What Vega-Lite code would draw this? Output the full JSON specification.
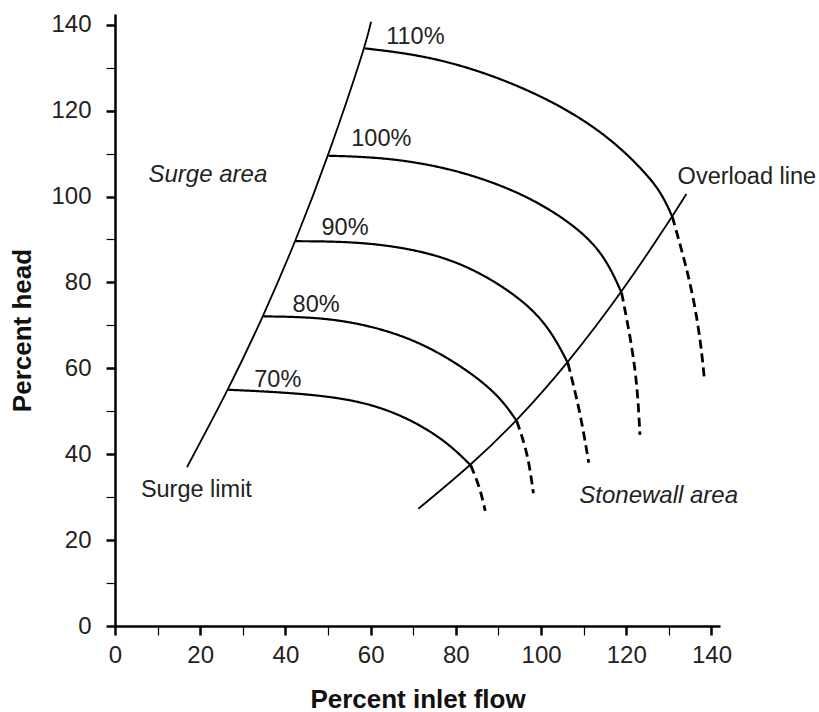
{
  "$schema": "https://vega.github.io/schema/vega-lite/v6.json",
  "width": 605,
  "height": 612,
  "autosize": {"type": "none"},
  "padding": {"left": 115, "top": 14, "right": 99, "bottom": 86},
  "background": "white",
  "config": {"view": {"stroke": null}, "font": "Liberation Sans"},
  "datasets": {
    "curves": [
      {"id": "110s", "part": "solid", "i": 1, "x": 58.6, "y": 134.5},
      {"id": "110s", "part": "solid", "i": 2, "x": 73.2, "y": 132.8},
      {"id": "110s", "part": "solid", "i": 3, "x": 88.9, "y": 128.3},
      {"id": "110s", "part": "solid", "i": 4, "x": 104.5, "y": 121.4},
      {"id": "110s", "part": "solid", "i": 5, "x": 116.3, "y": 113.6},
      {"id": "110s", "part": "solid", "i": 6, "x": 124.3, "y": 105.8},
      {"id": "110s", "part": "solid", "i": 7, "x": 128.3, "y": 100.8},
      {"id": "110s", "part": "solid", "i": 8, "x": 130.8, "y": 95.3},
      {"id": "110d", "part": "dashed", "i": 1, "x": 130.8, "y": 95.3},
      {"id": "110d", "part": "dashed", "i": 2, "x": 133.6, "y": 85.5},
      {"id": "110d", "part": "dashed", "i": 3, "x": 136.0, "y": 75.5},
      {"id": "110d", "part": "dashed", "i": 4, "x": 137.6, "y": 65.0},
      {"id": "110d", "part": "dashed", "i": 5, "x": 138.3, "y": 57.8},
      {"id": "100s", "part": "solid", "i": 1, "x": 50.1, "y": 109.5},
      {"id": "100s", "part": "solid", "i": 2, "x": 63.8, "y": 109.1},
      {"id": "100s", "part": "solid", "i": 3, "x": 79.5, "y": 106.5},
      {"id": "100s", "part": "solid", "i": 4, "x": 95.1, "y": 101.1},
      {"id": "100s", "part": "solid", "i": 5, "x": 106.9, "y": 94.1},
      {"id": "100s", "part": "solid", "i": 6, "x": 114.6, "y": 87.0},
      {"id": "100s", "part": "solid", "i": 7, "x": 118.9, "y": 77.6},
      {"id": "100d", "part": "dashed", "i": 1, "x": 118.9, "y": 77.6},
      {"id": "100d", "part": "dashed", "i": 2, "x": 121.4, "y": 65.0},
      {"id": "100d", "part": "dashed", "i": 3, "x": 122.7, "y": 54.5},
      {"id": "100d", "part": "dashed", "i": 4, "x": 123.2, "y": 44.5},
      {"id": "90s", "part": "solid", "i": 1, "x": 42.4, "y": 89.6},
      {"id": "90s", "part": "solid", "i": 2, "x": 58.3, "y": 89.5},
      {"id": "90s", "part": "solid", "i": 3, "x": 74.0, "y": 87.1},
      {"id": "90s", "part": "solid", "i": 4, "x": 85.7, "y": 82.5},
      {"id": "90s", "part": "solid", "i": 5, "x": 96.6, "y": 75.3},
      {"id": "90s", "part": "solid", "i": 6, "x": 102.4, "y": 68.7},
      {"id": "90s", "part": "solid", "i": 7, "x": 106.3, "y": 61.2},
      {"id": "90d", "part": "dashed", "i": 1, "x": 106.3, "y": 61.2},
      {"id": "90d", "part": "dashed", "i": 2, "x": 109.1, "y": 50.3},
      {"id": "90d", "part": "dashed", "i": 3, "x": 111.2, "y": 38.0},
      {"id": "80s", "part": "solid", "i": 1, "x": 34.8, "y": 72.1},
      {"id": "80s", "part": "solid", "i": 2, "x": 48.2, "y": 71.9},
      {"id": "80s", "part": "solid", "i": 3, "x": 59.9, "y": 70.0},
      {"id": "80s", "part": "solid", "i": 4, "x": 71.6, "y": 66.2},
      {"id": "80s", "part": "solid", "i": 5, "x": 82.5, "y": 59.8},
      {"id": "80s", "part": "solid", "i": 6, "x": 90.2, "y": 53.6},
      {"id": "80s", "part": "solid", "i": 7, "x": 94.3, "y": 47.7},
      {"id": "80d", "part": "dashed", "i": 1, "x": 94.3, "y": 47.7},
      {"id": "80d", "part": "dashed", "i": 2, "x": 96.9, "y": 40.2},
      {"id": "80d", "part": "dashed", "i": 3, "x": 98.2, "y": 30.9},
      {"id": "70s", "part": "solid", "i": 1, "x": 26.6, "y": 55.0},
      {"id": "70s", "part": "solid", "i": 2, "x": 40.3, "y": 54.4},
      {"id": "70s", "part": "solid", "i": 3, "x": 56.0, "y": 52.9},
      {"id": "70s", "part": "solid", "i": 4, "x": 67.7, "y": 49.1},
      {"id": "70s", "part": "solid", "i": 5, "x": 77.6, "y": 43.2},
      {"id": "70s", "part": "solid", "i": 6, "x": 83.5, "y": 37.4},
      {"id": "70d", "part": "dashed", "i": 1, "x": 83.5, "y": 37.4},
      {"id": "70d", "part": "dashed", "i": 2, "x": 85.6, "y": 32.4},
      {"id": "70d", "part": "dashed", "i": 3, "x": 86.9, "y": 26.8}
    ],
    "bounds": [
      {"id": "surge", "i": 1, "x": 16.9, "y": 37.0},
      {"id": "surge", "i": 2, "x": 26.6, "y": 55.0},
      {"id": "surge", "i": 3, "x": 34.8, "y": 72.1},
      {"id": "surge", "i": 4, "x": 42.4, "y": 89.6},
      {"id": "surge", "i": 5, "x": 50.1, "y": 109.5},
      {"id": "surge", "i": 6, "x": 58.6, "y": 134.5},
      {"id": "surge", "i": 7, "x": 60.1, "y": 140.7},
      {"id": "overload", "i": 1, "x": 71.2, "y": 27.3},
      {"id": "overload", "i": 2, "x": 83.5, "y": 37.4},
      {"id": "overload", "i": 3, "x": 94.3, "y": 47.7},
      {"id": "overload", "i": 4, "x": 106.3, "y": 61.2},
      {"id": "overload", "i": 5, "x": 118.9, "y": 77.6},
      {"id": "overload", "i": 6, "x": 130.8, "y": 95.3},
      {"id": "overload", "i": 7, "x": 134.1, "y": 100.6}
    ],
    "labels": [
      {"text": "110%", "x": 70.5, "y": 135.6},
      {"text": "100%", "x": 62.5, "y": 111.7},
      {"text": "90%", "x": 54.0, "y": 91.1},
      {"text": "80%", "x": 47.2, "y": 73.2},
      {"text": "70%", "x": 38.2, "y": 55.7},
      {"text": "Surge limit", "x": 19.1, "y": 30.1},
      {"text": "Overload line", "x": 148.3, "y": 102.9}
    ],
    "areas": [
      {"text": "Surge area", "x": 21.8, "y": 103.3},
      {"text": "Stonewall area", "x": 127.6, "y": 28.6}
    ]
  },
  "layer": [
    {
      "data": {"name": "curves"},
      "mark": {"type": "line", "color": "black", "interpolate": "basis"},
      "encoding": {
        "x": {
          "field": "x", "type": "quantitative",
          "scale": {"domain": [0, 142], "nice": false, "zero": false},
          "axis": {
            "title": "Percent inlet flow",
            "values": [0, 10, 20, 30, 40, 50, 60, 70, 80, 90, 100, 110, 120, 130, 140],
            "labelExpr": "datum.value % 20 === 0 ? datum.label : ''",
            "grid": false,
            "domainColor": "black", "domainWidth": 2.5,
            "tickColor": "black", "tickSize": 9,
            "tickWidth": {"condition": {"test": "datum.value % 20 === 0", "value": 2.5}, "value": 1.2},
            "labelFont": "Liberation Sans", "labelFontSize": 24, "labelColor": "#222",
            "labelPadding": 8, "labelFlush": false, "labelOverlap": false,
            "titleFont": "Liberation Sans", "titleFontSize": 26, "titleFontWeight": "bold",
            "titleColor": "#111", "titleY": 81, "titleBaseline": "alphabetic"
          }
        },
        "y": {
          "field": "y", "type": "quantitative",
          "scale": {"domain": [0, 142.5], "nice": false, "zero": false},
          "axis": {
            "title": "Percent head",
            "values": [0, 10, 20, 30, 40, 50, 60, 70, 80, 90, 100, 110, 120, 130, 140],
            "labelExpr": "datum.value % 20 === 0 ? datum.label : ''",
            "grid": false,
            "domainColor": "black", "domainWidth": 2.5,
            "tickColor": "black", "tickSize": 9,
            "tickWidth": {"condition": {"test": "datum.value % 20 === 0", "value": 2.5}, "value": 1.2},
            "labelFont": "Liberation Sans", "labelFontSize": 24, "labelColor": "#222",
            "labelPadding": 15, "labelFlush": false, "labelOverlap": false,
            "titleFont": "Liberation Sans", "titleFontSize": 26, "titleFontWeight": "bold",
            "titleColor": "#111", "titleX": -85, "titleY": 316, "titleBaseline": "alphabetic"
          }
        },
        "detail": {"field": "id"},
        "order": {"field": "i", "type": "quantitative"},
        "strokeDash": {
          "field": "part", "type": "nominal",
          "scale": {"domain": ["solid", "dashed"], "range": [[1, 0], [9, 5]]},
          "legend": null
        },
        "strokeWidth": {
          "field": "part", "type": "nominal",
          "scale": {"domain": ["solid", "dashed"], "range": [2.2, 2.8]},
          "legend": null
        }
      }
    },
    {
      "data": {"name": "bounds"},
      "mark": {"type": "line", "color": "black", "strokeWidth": 1.8, "interpolate": "basis"},
      "encoding": {
        "x": {"field": "x", "type": "quantitative"},
        "y": {"field": "y", "type": "quantitative"},
        "detail": {"field": "id"},
        "order": {"field": "i", "type": "quantitative"}
      }
    },
    {
      "data": {"name": "labels"},
      "mark": {"type": "text", "font": "Liberation Sans", "fontSize": 23.5, "color": "#222", "align": "center", "baseline": "alphabetic"},
      "encoding": {
        "x": {"field": "x", "type": "quantitative"},
        "y": {"field": "y", "type": "quantitative"},
        "text": {"field": "text"}
      }
    },
    {
      "data": {"name": "areas"},
      "mark": {"type": "text", "font": "Liberation Sans", "fontSize": 24, "fontStyle": "italic", "color": "#222", "align": "center", "baseline": "alphabetic"},
      "encoding": {
        "x": {"field": "x", "type": "quantitative"},
        "y": {"field": "y", "type": "quantitative"},
        "text": {"field": "text"}
      }
    }
  ]
}
